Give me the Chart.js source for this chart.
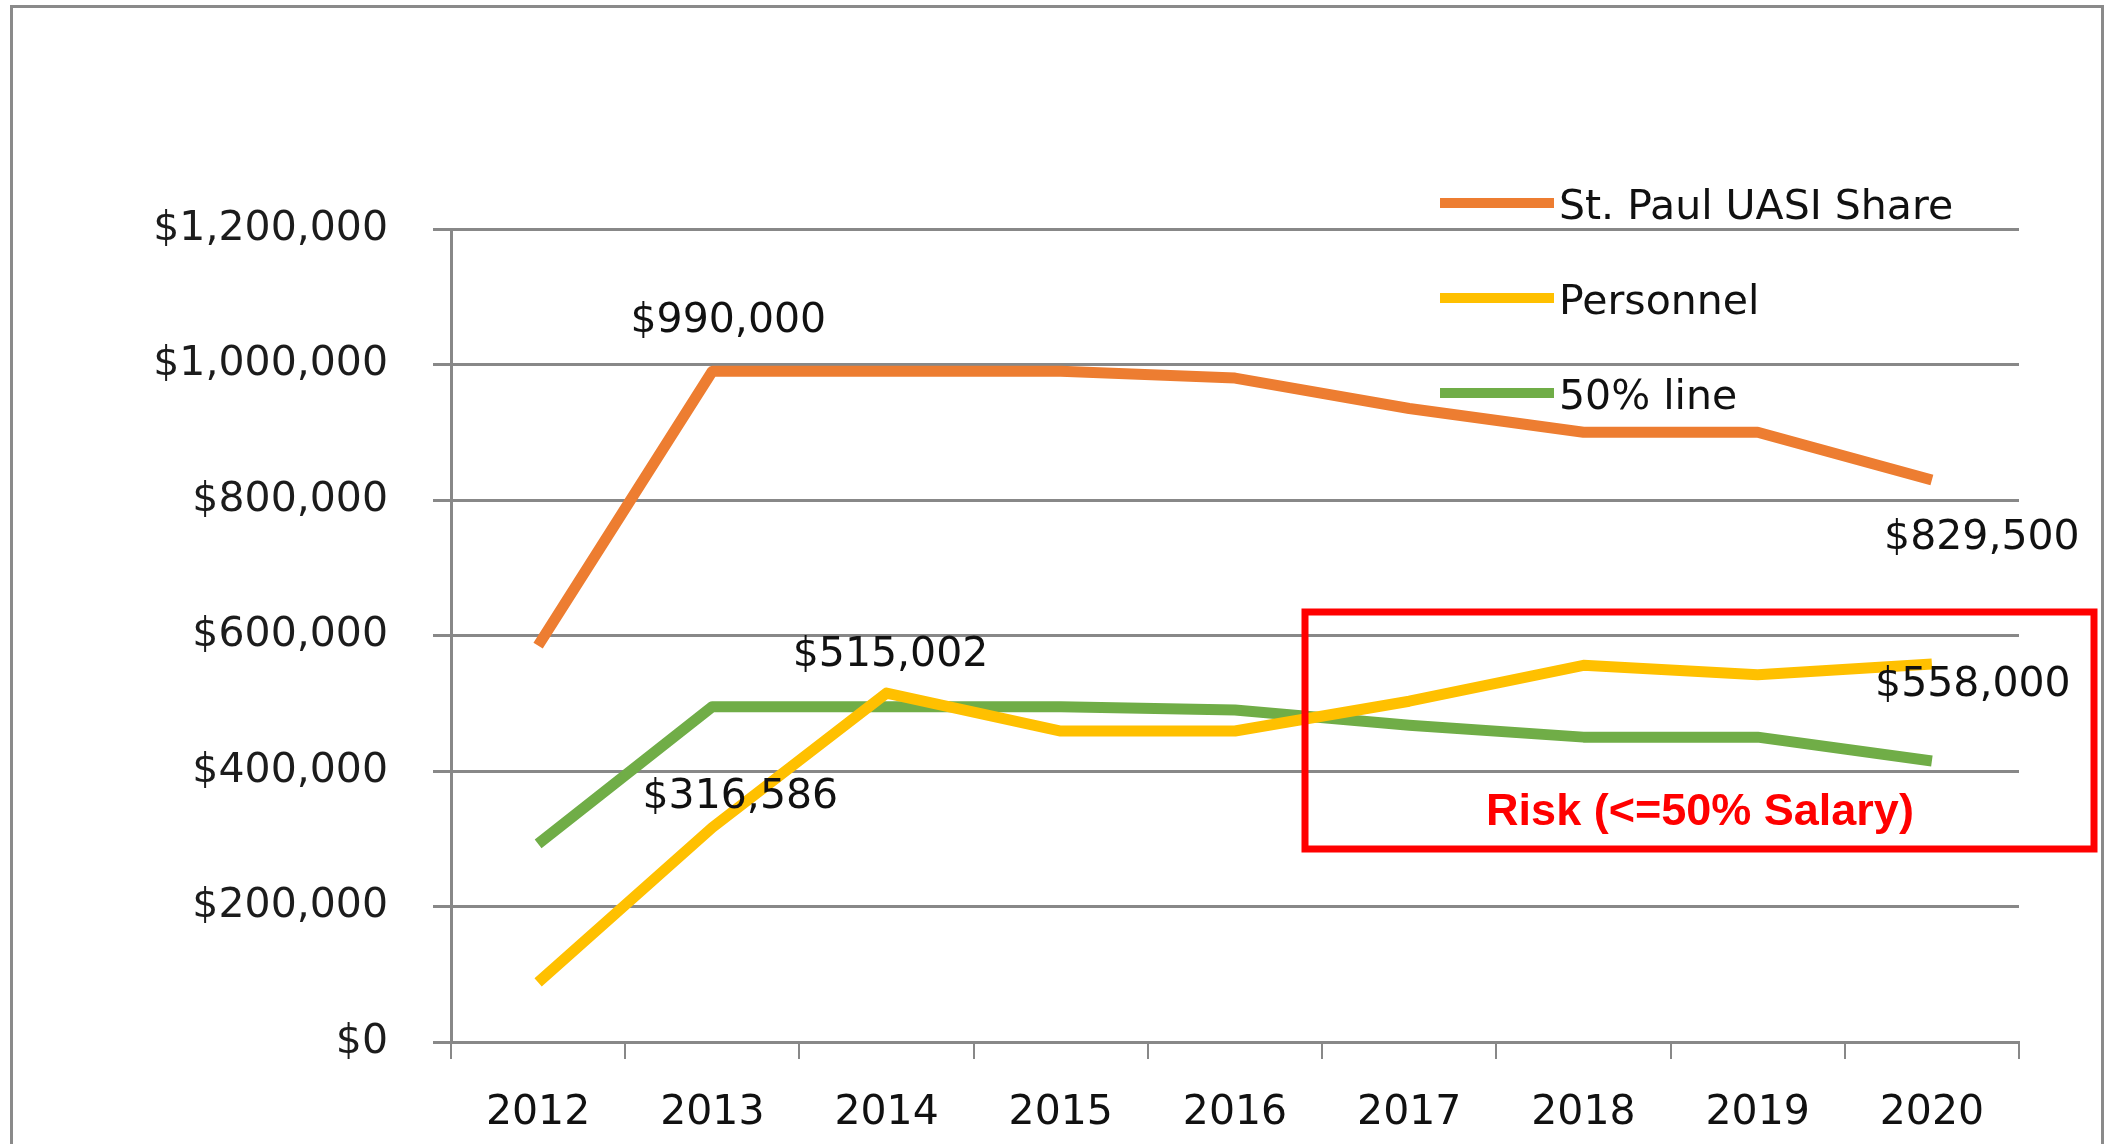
<!DOCTYPE html>
<html>
<head>
<meta charset="utf-8">
<script src="https://cdn.jsdelivr.net/npm/chart.js@4.4.1/dist/chart.umd.min.js"></script>
<style>
  html, body { margin: 0; padding: 0; background: #fff; overflow: hidden; }
  #wrap { position: relative; width: 2107px; height: 1144px; }
  #frame { position: absolute; left: 10px; top: 5px; width: 2094px; height: 1300px; border: 3px solid #8a8a8a; box-sizing: border-box; }
  canvas { position: absolute; left: 0; top: 0; }
</style>
</head>
<body>
<div id="wrap">
  <div id="frame"></div>
  <canvas id="chart" width="2107" height="1144"></canvas>
</div>
<script>
const years = ['2012', '2013', '2014', '2015', '2016', '2017', '2018', '2019', '2020']
const uasiShare = [585000, 990000, 990000, 990000, 980000, 935000, 900000, 900000, 829500]
const personnel = [88000, 316586, 515002, 459000, 459000, 503000, 556000, 542000, 558000]
const halfLine = [292500, 495000, 495000, 495000, 490000, 467500, 450000, 450000, 414750]
const yTicks = [0, 200000, 400000, 600000, 800000, 1000000, 1200000]
const seriesNames = ['St. Paul UASI Share', 'Personnel', '50% line']
const riskText = 'Risk (<=50% Salary)'

const money = v => '$' + Number(v).toLocaleString('en-US')
const FONT = '"DejaVu Sans", sans-serif'

// which values get a label, and where it sits relative to its point
const valueNotes = [
  { series: 0, index: 1, dx: 16, dy: -39 },
  { series: 0, index: 8, dx: 50, dy: 69 },
  { series: 1, index: 1, dx: 28, dy: -20 },
  { series: 1, index: 2, dx: 4, dy: -27 },
  { series: 1, index: 8, dx: 41, dy: 32 }
]

const overlay = {
  id: 'overlay',
  afterDatasetsDraw (chart) {
    const ctx = chart.ctx
    ctx.save()

    ctx.font = `41px ${FONT}`
    ctx.fillStyle = '#111'
    ctx.textAlign = 'center'
    ctx.textBaseline = 'alphabetic'
    valueNotes.forEach(n => {
      const pt = chart.getDatasetMeta(n.series).data[n.index]
      const v = chart.data.datasets[n.series].data[n.index]
      ctx.fillText(money(v), pt.x + n.dx, pt.y + n.dy)
    })

    // legend inside the plot, top right
    ctx.textAlign = 'left'
    chart.data.datasets.forEach((ds, i) => {
      const y = 203 + i * 95
      ctx.strokeStyle = ds.borderColor
      ctx.lineWidth = 10
      ctx.beginPath()
      ctx.moveTo(1440, y)
      ctx.lineTo(1554, y)
      ctx.stroke()
      ctx.fillStyle = '#111'
      ctx.fillText(ds.label, 1559, y + 16)
    })

    // risk box
    ctx.strokeStyle = '#ff0000'
    ctx.lineWidth = 7
    ctx.strokeRect(1305, 612, 789, 237)
    ctx.fillStyle = '#ff0000'
    ctx.font = `bold 45px "Liberation Sans", Arial, sans-serif`
    ctx.textAlign = 'center'
    ctx.fillText(riskText, 1700, 825)

    ctx.restore()
  }
}

new Chart(document.getElementById('chart'), { // eslint-disable-line
  type: 'line',
  data: {
    labels: years,
    datasets: [
      { label: seriesNames[0], data: uasiShare, borderColor: '#ED7D31', backgroundColor: '#ED7D31' },
      { label: seriesNames[1], data: personnel, borderColor: '#FFC000', backgroundColor: '#FFC000' },
      { label: seriesNames[2], data: halfLine, borderColor: '#70AD47', backgroundColor: '#70AD47' }
    ]
  },
  options: {
    responsive: false,
    animation: false,
    devicePixelRatio: 1,
    layout: { padding: { left: 0, top: 229, right: 88, bottom: 0 } },
    font: { family: FONT },
    elements: {
      line: { borderWidth: 11, tension: 0, borderJoinStyle: 'round', borderCapStyle: 'butt' },
      point: { radius: 0, hoverRadius: 0 }
    },
    plugins: {
      legend: { display: false },
      tooltip: { enabled: false }
    },
    scales: {
      x: {
        offset: true,
        grid: { offset: true, drawOnChartArea: false, tickLength: 17, color: '#888', lineWidth: 2 },
        border: { color: '#888', width: 3 },
        ticks: { color: '#111', font: { family: FONT, size: 41 }, padding: 30, maxRotation: 0, autoSkip: false },
        afterFit: s => { s.height = 102 }
      },
      y: {
        min: 0,
        max: 1200000,
        grid: { color: '#888', lineWidth: 3, tickLength: 18 },
        border: { color: '#888', width: 3 },
        ticks: { color: '#1c1c1c', font: { family: FONT, size: 41 }, padding: 45, callback: v => money(v) },
        afterBuildTicks: s => { s.ticks = yTicks.map(v => ({ value: v })) },
        afterFit: s => { s.width = 451 }
      }
    }
  },
  plugins: [overlay]
})
</script>
</body>
</html>
